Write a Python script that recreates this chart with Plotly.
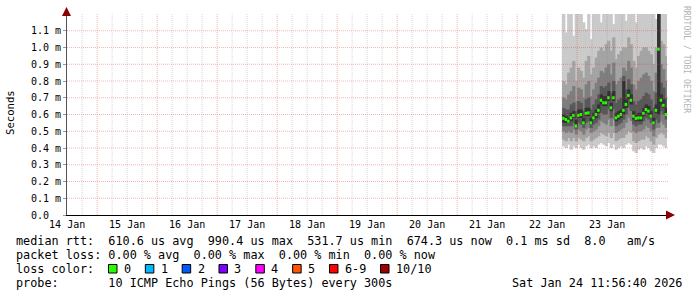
import pandas as pd
import plotly.graph_objects as go

# ---------------- data (milliseconds) ----------------
# hourly consolidated columns, timestamp = end of the hour
col_end = pd.date_range("2026-01-22 19:00", periods=42, freq="h")

p1 = [0.41,0.40,0.42,0.39,0.41,0.40,0.42,0.40,0.39,0.41,0.42,0.40,0.41,0.40,0.42,0.43,0.42,0.41,0.43,0.40,0.42,
      0.39,0.40,0.41,0.40,0.42,0.43,0.42,0.38,0.37,0.39,0.40,0.39,0.41,0.40,0.38,0.37,0.40,0.42,0.42,0.41,0.40]
p2 = [0.45,0.44,0.46,0.44,0.46,0.44,0.46,0.45,0.44,0.46,0.47,0.44,0.45,0.46,0.47,0.49,0.48,0.47,0.49,0.46,0.49,
      0.44,0.45,0.46,0.46,0.48,0.50,0.49,0.44,0.43,0.44,0.45,0.45,0.47,0.46,0.44,0.42,0.46,0.48,0.49,0.48,0.46]
p3 = [0.50,0.49,0.50,0.49,0.51,0.48,0.51,0.50,0.48,0.51,0.52,0.49,0.50,0.51,0.53,0.56,0.55,0.54,0.57,0.53,0.57,
      0.49,0.50,0.51,0.52,0.55,0.58,0.56,0.50,0.49,0.50,0.50,0.51,0.53,0.52,0.50,0.47,0.52,0.52,0.56,0.54,0.52]
p4 = [0.53,0.53,0.53,0.53,0.55,0.51,0.55,0.54,0.52,0.55,0.56,0.52,0.54,0.55,0.57,0.61,0.60,0.60,0.63,0.58,0.63,
      0.53,0.54,0.55,0.57,0.60,0.64,0.62,0.54,0.53,0.54,0.54,0.56,0.58,0.57,0.55,0.51,0.57,0.55,0.62,0.60,0.57]
p5 = [0.55,0.55,0.55,0.56,0.58,0.53,0.58,0.58,0.54,0.59,0.59,0.54,0.57,0.58,0.61,0.66,0.65,0.65,0.68,0.62,0.68,
      0.56,0.57,0.58,0.60,0.64,0.69,0.66,0.57,0.56,0.56,0.56,0.59,0.61,0.60,0.58,0.54,0.61,0.60,0.66,0.64,0.60]
p6 = [0.60,0.59,0.58,0.61,0.62,0.57,0.63,0.63,0.58,0.64,0.64,0.58,0.61,0.63,0.66,0.72,0.71,0.71,0.74,0.67,0.74,
      0.61,0.62,0.63,0.80,0.69,0.75,0.72,0.62,0.60,0.61,0.61,0.64,0.66,0.65,0.62,0.58,0.66,1.25,0.72,0.69,0.64]
p7 = [0.64,0.63,0.63,0.66,0.67,0.62,0.68,0.67,0.62,0.69,0.70,0.63,0.66,0.69,0.72,0.77,0.76,0.77,0.79,0.73,0.80,
      0.67,0.69,0.70,0.83,0.75,0.81,0.78,0.68,0.66,0.68,0.69,0.71,0.73,0.72,0.69,0.64,0.73,1.30,0.79,0.76,0.70]
p8 = [0.70,0.69,0.72,0.74,0.77,0.68,0.76,0.75,0.70,0.78,0.80,0.71,0.75,0.79,0.82,0.86,0.85,0.88,0.90,0.84,0.91,
      0.78,0.80,0.82,0.88,0.86,0.92,0.88,0.78,0.75,0.80,0.82,0.84,0.85,0.83,0.80,0.74,0.85,1.35,0.90,0.87,0.80]
p9 = [0.80,0.78,0.85,0.88,0.92,0.80,0.88,0.86,0.82,0.92,0.95,0.84,0.88,0.94,0.98,1.00,0.98,1.02,1.04,0.98,1.06,
      0.93,0.96,0.98,1.00,1.00,1.06,1.02,0.92,0.88,0.95,0.98,1.00,1.00,0.98,0.96,0.90,1.00,1.40,1.04,1.02,0.95]
p10 = [1.30,1.09,1.30,1.30,1.07,1.30,1.30,1.25,1.15,1.11,1.30,1.05,1.30,1.30,1.30,1.15,1.30,1.30,1.30,1.30,1.14,
       1.30,1.30,1.30,1.30,1.16,1.30,1.30,1.30,1.15,1.30,1.30,1.30,1.30,1.30,1.30,1.30,1.17,1.45,1.30,1.30,1.30]
median = [0.577,0.57,0.56,0.58,0.595,0.532,0.595,0.60,0.55,0.607,0.61,0.55,0.58,0.60,0.625,0.685,0.67,0.67,0.70,0.64,0.70,
          0.58,0.59,0.60,0.625,0.66,0.714,0.685,0.59,0.577,0.58,0.58,0.607,0.63,0.62,0.59,0.55,0.625,0.99,0.685,0.655,0.60]

y_ticks = [0.0, 0.1, 0.2, 0.3, 0.4, 0.5, 0.6, 0.7, 0.8, 0.9, 1.0, 1.1]
y_tick_text = ["0.0\u00a0\u00a0", "0.1 m", "0.2 m", "0.3 m", "0.4 m", "0.5 m", "0.6 m",
               "0.7 m", "0.8 m", "0.9 m", "1.0 m", "1.1 m"]

loss_labels = ["0", "1", "2", "3", "4", "5", "6-9", "10/10"]
loss_colors = ["#26ff00", "#00b8ff", "#0059ff", "#7e00ff", "#ff00ff", "#ff5500", "#ff0000", "#a10000"]

stat_avg, stat_max, stat_min, stat_now = "610.6 us", "990.4 us", "531.7 us", "674.3 us"
stat_sd, stat_ams = "0.1 ms", "8.0"
loss_avg = loss_max = loss_min = loss_now = "0.00 %"
probe_text = "10 ICMP Echo Pings (56 Bytes) every 300s"
stamp_text = "Sat Jan 24 11:56:40 2026"

t_start = "2026-01-14 11:56:40"
t_end = "2026-01-24 11:56:40"

# ---------------- styling ----------------
W, H = 697, 297
L, R, T, B = 67, 30, 14, 82
PW, PH = W - L - R, H - T - B
Y_MAX = 1.2
MONO = "DejaVu Sans Mono"
STEP_MS = 3600 * 1000
smoke_grays = ["#cacaca", "#a4a4a4", "#7e7e7e", "#585858", "#323232"]


def px_x(px):
    return (px - L) / PW


def px_y(py):
    return ((H - B) - py) / PH


NB = "\u00a0"


def sp(s):
    return s.replace(" ", NB)


fig = go.Figure()
pings = [p1, p2, p3, p4, p5, p6, p7, p8, p9, p10]
for i in range(5):
    lo, hi = pings[i], pings[9 - i]
    fig.add_trace(go.Bar(
        x=col_end, base=lo, y=[h - l for h, l in zip(hi, lo)],
        width=STEP_MS * 1.3, offset=-STEP_MS,
        marker=dict(color=smoke_grays[i], line=dict(width=0)),
        hoverinfo="skip", showlegend=False))

half = 1.5 * Y_MAX / PH
fig.add_trace(go.Bar(
    x=col_end, base=[m - half for m in median], y=[2 * half] * len(median),
    width=STEP_MS, offset=-STEP_MS,
    marker=dict(color=loss_colors[0], line=dict(width=0)),
    hoverinfo="skip", showlegend=False))

shapes = []
# vertical grid (6h minor gray, midnight major red) drawn above the smoke, as rrdtool does
for t in pd.date_range("2026-01-14 18:00", "2026-01-24 06:00", freq="6h"):
    major = t.hour == 0
    shapes.append(dict(type="line", xref="x", yref="paper", x0=t, x1=t, y0=0, y1=1,
                       layer="above",
                       line=dict(color="rgba(225,60,60,0.38)" if major else "rgba(120,120,120,0.3)",
                                 width=1, dash="1px,1px")))
for v in y_ticks[1:]:
    shapes.append(dict(type="line", xref="paper", yref="y", x0=0, x1=px_x(669), y0=v, y1=v,
                       layer="above",
                       line=dict(color="rgba(225,60,60,0.38)", width=1, dash="1px,1px")))

annotations = []
LEG = 11.8
CW = 7.11
X0 = 15.5


def text_at(x, y, s, size=LEG, anchor="left", color="#000000", angle=0):
    annotations.append(dict(xref="paper", yref="paper", x=px_x(x), y=px_y(y), text=sp(s),
                            showarrow=False, xanchor=anchor, yanchor="middle", textangle=angle,
                            borderpad=0, borderwidth=0,
                            font=dict(family=MONO, size=size, color=color)))


row1 = (f"median rtt:  {stat_avg} avg  {stat_max} max  {stat_min} min  {stat_now} now  "
        f"{stat_sd} sd  {stat_ams}   am/s")
row2 = f"packet loss: {loss_avg} avg  {loss_max} max  {loss_min} min  {loss_now} now"
row4 = f"probe:       {probe_text}"
text_at(X0, 241, row1)
text_at(X0, 255, row2)
text_at(X0, 269, "loss color:")
text_at(X0, 283, row4)
text_at(682, 283, stamp_text, anchor="right")

# loss colour swatches
bx = 108.5
for lab, col in zip(loss_labels, loss_colors):
    shapes.append(dict(type="rect", xref="paper", yref="paper",
                       x0=px_x(bx), x1=px_x(bx + 8.5), y0=px_y(273), y1=px_y(264.5),
                       fillcolor=col, line=dict(color="#000000", width=1), layer="above"))
    text_at(bx + 15.5, 269, lab)
    bx = bx + 15.5 + len(lab) * CW + 2 * CW

# axis title and watermark
text_at(10, 113, "Seconds", size=10.6, anchor="center", angle=-90)
text_at(687, 59, "RRDTOOL / TOBI OETIKER", size=8.1, anchor="center", angle=90, color="#b4b4b4")

# axis arrows
annotations.append(dict(xref="paper", yref="paper", x=px_x(675), y=px_y(215), ax=-7, ay=0,
                        text="", showarrow=True, arrowhead=2, arrowsize=1.5, arrowwidth=1.2,
                        arrowcolor="#8b0000", standoff=0))
annotations.append(dict(xref="paper", yref="paper", x=px_x(66.5), y=px_y(7), ax=0, ay=7,
                        text="", showarrow=True, arrowhead=2, arrowsize=1.5, arrowwidth=1.2,
                        arrowcolor="#8b0000", standoff=0))

fig.update_layout(
    width=W, height=H, autosize=False,
    margin=dict(l=L, r=R, t=T, b=B, pad=0),
    paper_bgcolor="white", plot_bgcolor="white",
    barmode="overlay", showlegend=False,
    xaxis=dict(type="date", range=[t_start, t_end], tick0="2026-01-14 12:00", dtick=86400000,
               tickformat="%d %b", showgrid=False, zeroline=False, showline=True,
               linecolor="#000000", linewidth=1, ticks="", fixedrange=True,
               tickfont=dict(family=MONO, size=10, color="#000000")),
    yaxis=dict(range=[0, Y_MAX], tickvals=y_ticks, ticktext=y_tick_text, showgrid=False,
               zeroline=False, showline=True, linecolor="#555555", linewidth=1,
               ticks="outside", ticklen=3, tickcolor="#999999", fixedrange=True,
               tickfont=dict(family=MONO, size=10, color="#000000")),
    shapes=shapes, annotations=annotations,
)

fig.write_html("out.html")
